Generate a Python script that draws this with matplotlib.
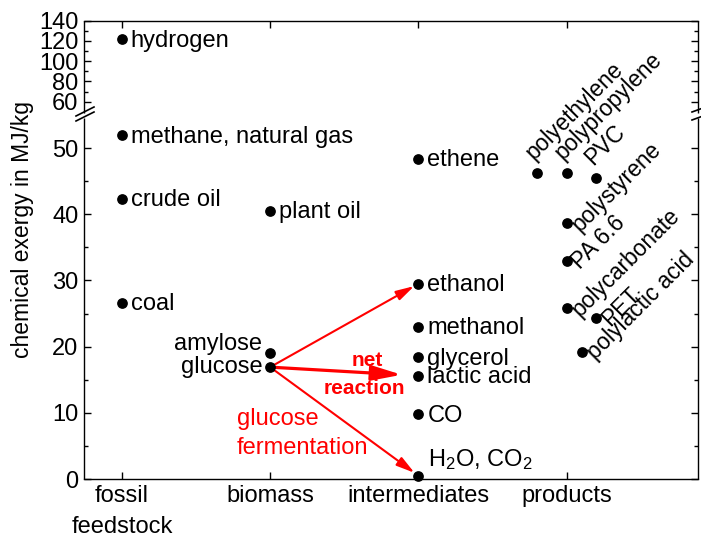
import matplotlib
matplotlib.use('Agg')
import matplotlib.pyplot as plt
from matplotlib.lines import Line2D
import numpy as np

plt.rcParams['font.family'] = ['Liberation Sans', 'DejaVu Sans']
plt.rcParams['mathtext.fontset'] = 'custom'
plt.rcParams['mathtext.rm'] = 'Liberation Sans'
plt.rcParams['mathtext.it'] = 'Liberation Sans:italic'
plt.rcParams['mathtext.bf'] = 'Liberation Sans:bold'

# ── data ──
categories = ['fossil\nfeedstock', 'biomass', 'intermediates', 'products']

fossil_names = ['hydrogen', 'methane, natural gas', 'crude oil', 'coal']
fossil_vals = [121.5, 51.9, 42.3, 26.6]

biomass_names = ['plant oil', 'amylose', 'glucose']
biomass_vals = [40.5, 19.1, 16.9]

inter_names = ['ethene', 'ethanol', 'methanol', 'glycerol', 'lactic acid', 'CO',
               'H$_2$O, CO$_2$']
inter_vals = [48.4, 29.5, 23.0, 18.4, 15.6, 9.8, 0.5]

prod_names = ['polyethylene', 'polypropylene', 'PVC', 'polystyrene', 'PA 6.6',
              'polycarbonate', 'PET', 'polylactic acid']
prod_vals = [46.2, 46.2, 45.4, 38.6, 32.9, 25.8, 24.3, 19.2]
prod_x = [3.8, 4.0, 4.2, 4.0, 4.0, 4.0, 4.2, 4.1]

FS = 17
FS_ROT = 16.3


# ── broken y scale: 0-55 linear, 60-140 compressed ──
def fwd(y):
    y = np.asarray(y, dtype=float)
    return np.where(y <= 55, y,
                    np.where(y <= 60, 55 + (y - 55) * 0.4, 57 + (y - 60) * 0.1533))


def inv(t):
    t = np.asarray(t, dtype=float)
    return np.where(t <= 55, t,
                    np.where(t <= 57, 55 + (t - 55) / 0.4, 60 + (t - 57) / 0.1533))


W, H = 701, 538
fig = plt.figure(figsize=(W / 100, H / 100), dpi=100)
fig.patch.set_facecolor('white')
ax = fig.add_axes([84 / W, (H - 479) / H, (698 - 84) / W, 458.5 / H])
ax.set_yscale('function', functions=(fwd, inv))
ax.set_ylim(0, 140)
ax.set_xlim(0.745, 4.885)

# ── points ──
ms = 45
ax.scatter([1] * len(fossil_vals), fossil_vals, s=ms, color='black', zorder=4, clip_on=False)
ax.scatter([2] * len(biomass_vals), biomass_vals, s=ms, color='black', zorder=4, clip_on=False)
ax.scatter([3] * len(inter_vals), inter_vals, s=ms, color='black', zorder=4, clip_on=False)
ax.scatter(prod_x, prod_vals, s=ms, color='black', zorder=4, clip_on=False)

# labels right of the dot
for n, v in zip(fossil_names, fossil_vals):
    ax.annotate(n, (1, v), xytext=(6.5, -1), textcoords='offset points',
                ha='left', va='center', fontsize=FS)
ax.annotate(biomass_names[0], (2, biomass_vals[0]), xytext=(6.5, -1),
            textcoords='offset points', ha='left', va='center', fontsize=FS)
ax.annotate(biomass_names[1], (2, biomass_vals[1]), xytext=(-5.5, 6),
            textcoords='offset points', ha='right', va='center', fontsize=FS)
ax.annotate(biomass_names[2], (2, biomass_vals[2]), xytext=(-5.5, 0),
            textcoords='offset points', ha='right', va='center', fontsize=FS)
for n, v in zip(inter_names[:-1], inter_vals[:-1]):
    ax.annotate(n, (3, v), xytext=(6.5, -1), textcoords='offset points',
                ha='left', va='center', fontsize=FS)
ax.annotate(inter_names[-1], (3, inter_vals[-1]), xytext=(7, 7),
            textcoords='offset points', ha='left', va='baseline', fontsize=FS)

# rotated product labels
for i, (n, x, v) in enumerate(zip(prod_names, prod_x, prod_vals)):
    if i < 3:
        ax.annotate(n, (x, v), xytext=(0, 6.5), textcoords='offset points',
                    ha='left', va='bottom', rotation=45, rotation_mode='anchor',
                    fontsize=FS_ROT)
    else:
        ax.annotate(n, (x, v), xytext=(6.5, -3), textcoords='offset points',
                    ha='left', va='center', rotation=45, rotation_mode='anchor',
                    fontsize=FS_ROT)

# ── arrows from glucose ──
g = (2, biomass_vals[2])
thin = dict(arrowstyle='-|>,head_length=1.1,head_width=0.3', mutation_scale=10,
            color='red', lw=1.5, shrinkA=0, shrinkB=3.5)
ax.annotate('', xy=(3, inter_vals[1]), xytext=g, arrowprops=thin)
ax.annotate('', xy=(3, inter_vals[-1]), xytext=g, arrowprops=thin)
ax.annotate('', xy=(3, inter_vals[4]), xytext=g,
            arrowprops=dict(arrowstyle='-|>,head_length=1.8,head_width=0.45',
                            mutation_scale=10, color='red', lw=2.3,
                            shrinkA=0, shrinkB=12))

ax.text(2.654, 17.0, 'net', color='red', fontsize=15, fontweight='bold',
        ha='center', va='baseline')
ax.text(2.634, 12.9, 'reaction', color='red', fontsize=15, fontweight='bold',
        ha='center', va='baseline')
ax.text(1.775, 8.16, 'glucose', color='red', fontsize=FS, ha='left', va='baseline')
ax.text(1.775, 3.78, 'fermentation', color='red', fontsize=FS, ha='left', va='baseline')

# ── axes ──
ax.set_xticks([1, 2, 3, 4])
ax.set_xticklabels(categories, fontsize=FS)
ax.set_yticks([0, 10, 20, 30, 40, 50, 60, 80, 100, 120, 140])
ax.set_yticks([5, 15, 25, 35, 45, 70, 90, 110, 130], minor=True)
ax.set_yticklabels(['0', '10', '20', '30', '40', '50', '60', '80', '100', '120', '140'],
                   fontsize=FS)
ax.tick_params(axis='both', which='major', direction='in', length=5, width=1,
               top=True, right=True, pad=4)
ax.tick_params(axis='y', which='minor', direction='in', length=3, width=1,
               left=True, right=True)
ax.tick_params(axis='x', which='minor', bottom=False, top=False)
for lab in ax.get_xticklabels():
    lab.set_linespacing(1.55)

for s in ['top', 'bottom']:
    ax.spines[s].set_linewidth(1)
ax.spines['left'].set_visible(False)
ax.spines['right'].set_visible(False)

ytr = ax.get_yaxis_transform()
for xa in (0, 1):
    ax.plot([xa, xa], [0, 54.5], transform=ytr, color='black', lw=1,
            clip_on=False, solid_capstyle='butt')
    ax.plot([xa, xa], [55.8, 140], transform=ytr, color='black', lw=1,
            clip_on=False, solid_capstyle='butt')

# break marks (pixel positions)
def px_line(x0, y0, x1, y1):
    fig.add_artist(Line2D([x0 / W, x1 / W], [1 - y0 / H, 1 - y1 / H],
                          transform=fig.transFigure, color='black', lw=1.2))

px_line(76, 121, 94, 112)
px_line(76, 116, 94, 107)
px_line(692, 112, 703, 108)
px_line(692, 120, 703, 116)

fig.text(23 / W, 1 - 230 / H, 'chemical exergy in MJ/kg', rotation=90,
         ha='center', va='center', fontsize=16.5)

fig.savefig('out.png', dpi=100, facecolor='white')
